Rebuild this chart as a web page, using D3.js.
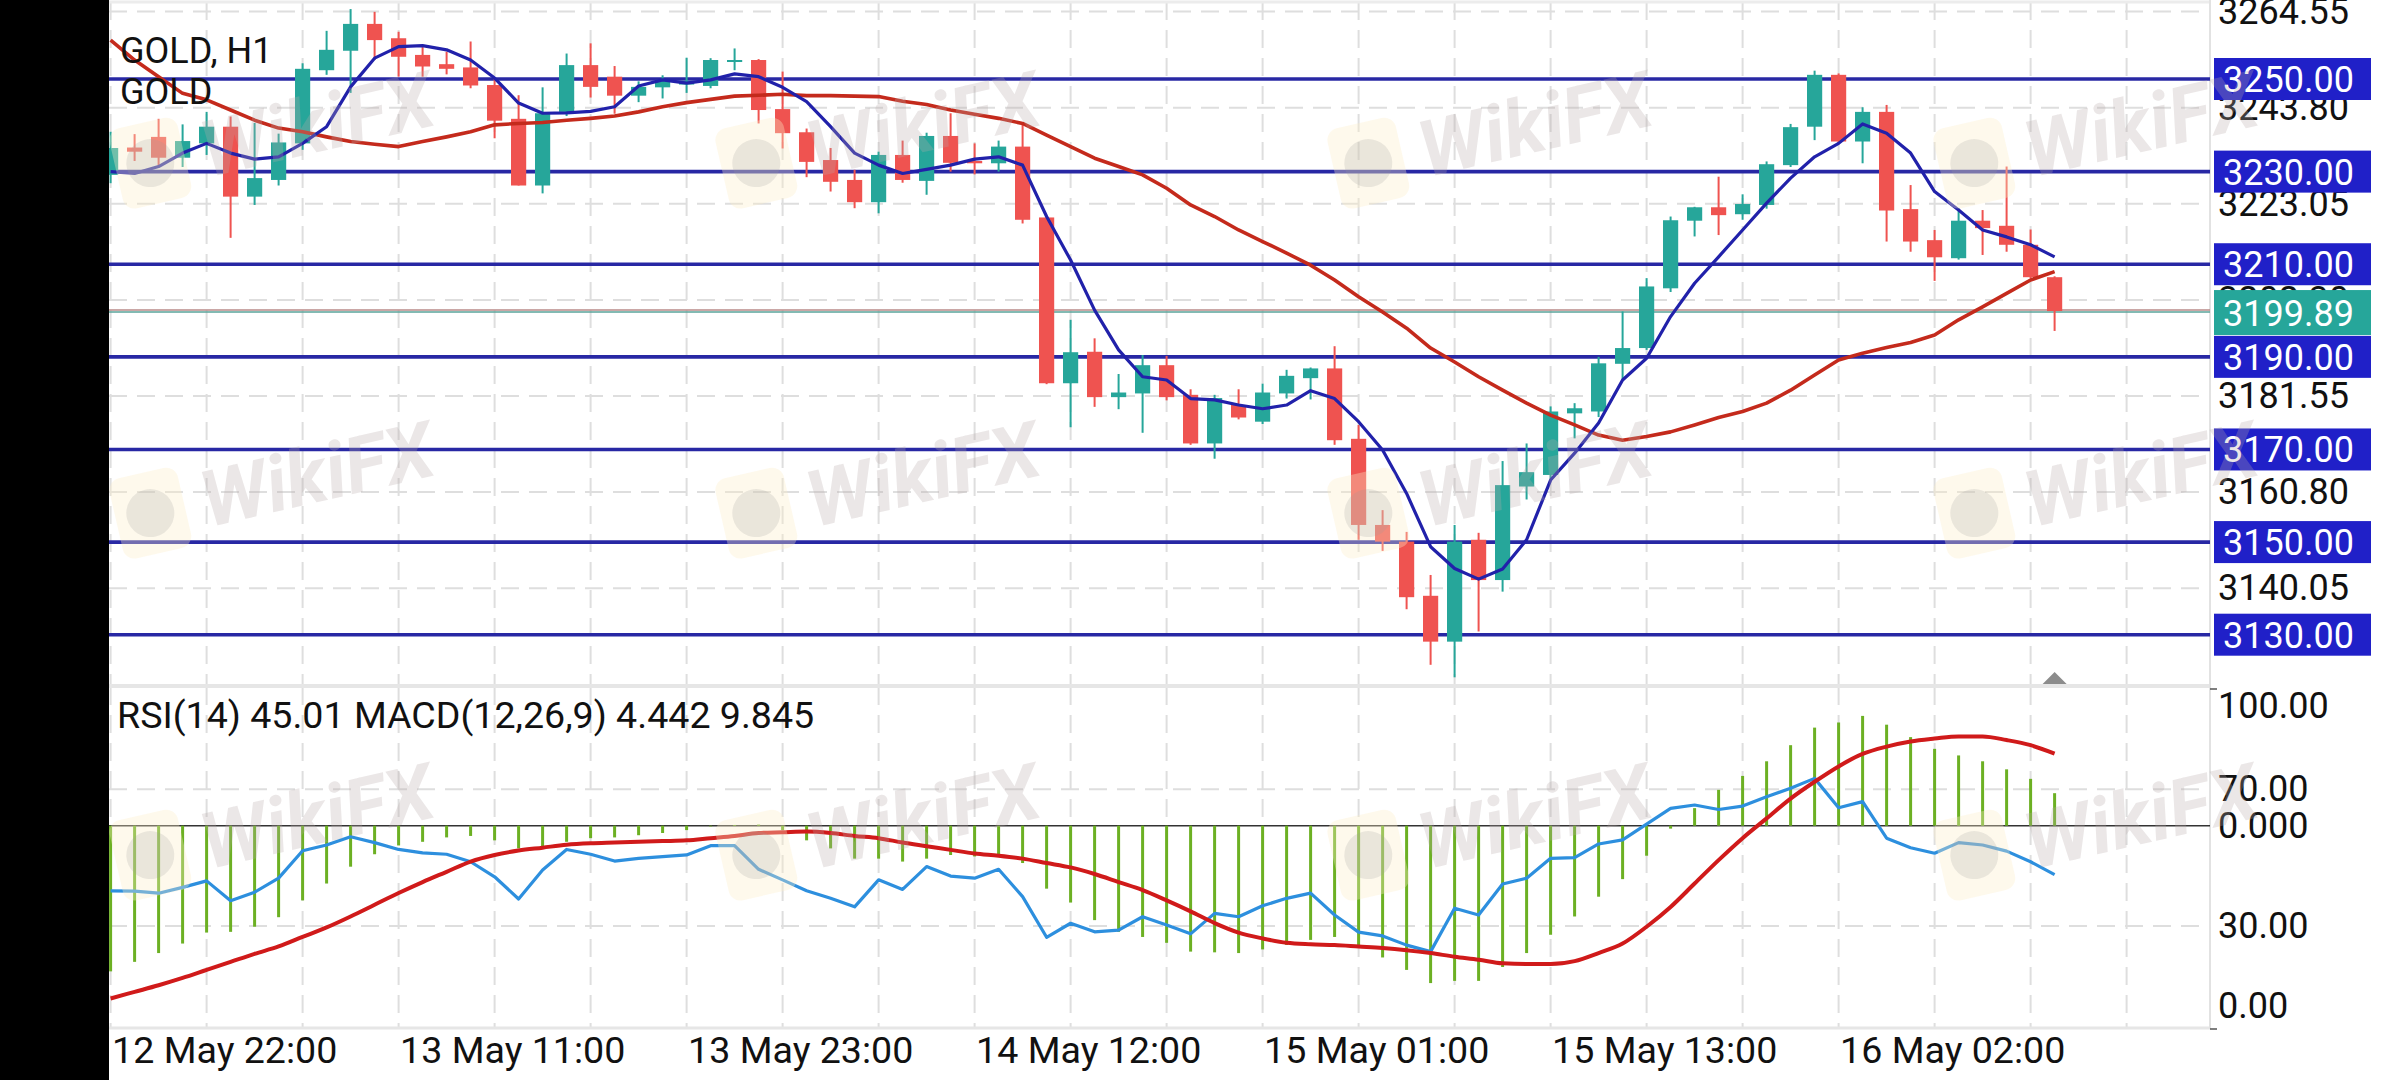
<!DOCTYPE html>
<html><head><meta charset="utf-8">
<script src="https://cdn.jsdelivr.net/npm/d3@7"></script>
<style>
html,body{margin:0;padding:0;background:#fff;}
svg{display:block;font-family:Roboto,"Noto Sans",sans-serif;}
</style></head><body>
<svg id="chart" width="2400" height="1080"></svg>
<script>
// ---- DATA ----
const opens  = [3229.3,3235.2,3237.5,3233.0,3236.1,3239.7,3224.6,3228.2,3236.1,3251.9,3256.1,3261.9,3258.8,3255.2,3253.2,3252.5,3248.7,3241.4,3227.0,3242.9,3253.0,3250.5,3246.4,3248.2,3248.8,3248.5,3253.8,3254.1,3243.5,3238.5,3232.5,3228.2,3223.4,3233.6,3228.0,3237.7,3232.3,3231.8,3235.4,3220.1,3184.3,3191.1,3181.3,3182.1,3188.2,3181.8,3171.3,3179.6,3176.0,3182.1,3185.4,3187.5,3172.3,3153.7,3150.1,3138.4,3128.5,3150.5,3141.8,3162.0,3164.5,3177.8,3178.2,3188.5,3191.9,3204.8,3219.4,3222.3,3220.8,3222.8,3231.4,3239.7,3250.9,3236.5,3242.9,3221.9,3215.2,3211.3,3219.4,3218.3,3214.2,3207.2];
const highs  = [3238.6,3238.1,3241.4,3240.2,3242.9,3241.9,3240.5,3238.2,3253.4,3260.4,3265.1,3264.5,3260.2,3256.9,3255.9,3258.1,3250.0,3246.5,3248.2,3255.5,3257.7,3252.8,3249.5,3250.8,3254.6,3254.5,3256.6,3254.3,3251.6,3239.3,3235.1,3230.4,3234.3,3236.7,3238.4,3242.6,3236.1,3236.7,3240.1,3220.5,3198.0,3194.0,3186.3,3190.4,3190.2,3183.0,3181.8,3183.0,3184.2,3187.2,3187.7,3192.3,3175.3,3156.9,3152.2,3142.9,3153.7,3152.0,3167.5,3171.3,3179.3,3180.0,3190.0,3199.8,3207.0,3220.3,3222.4,3228.9,3225.1,3232.2,3240.3,3251.8,3251.2,3243.9,3244.4,3227.1,3217.4,3222.1,3221.7,3231.1,3217.5,3207.4];
const lows   = [3227.5,3232.3,3231.4,3231.0,3233.6,3215.7,3222.8,3227.0,3234.7,3250.9,3247.0,3254.1,3250.5,3250.5,3251.0,3248.0,3237.2,3227.0,3225.3,3242.0,3246.0,3242.5,3245.0,3245.8,3247.0,3248.0,3251.9,3240.4,3235.0,3228.8,3225.7,3222.1,3221.0,3227.6,3225.0,3230.0,3229.4,3230.0,3218.8,3184.1,3174.8,3179.2,3178.7,3173.6,3180.6,3171.0,3168.0,3176.5,3175.5,3181.0,3180.8,3171.0,3150.5,3148.1,3135.5,3123.5,3120.8,3130.7,3139.3,3159.2,3163.5,3172.4,3177.0,3185.2,3191.5,3204.0,3216.0,3216.3,3219.6,3222.0,3231.0,3236.8,3236.0,3231.8,3214.9,3212.7,3206.4,3211.0,3212.0,3212.7,3207.0,3195.6];
const closes = [3235.1,3234.3,3233.0,3236.6,3239.7,3224.6,3228.6,3236.3,3252.2,3256.3,3261.9,3258.4,3254.8,3252.7,3252.2,3248.6,3241.0,3227.0,3242.6,3253.0,3248.3,3246.4,3248.3,3249.8,3249.6,3254.1,3254.1,3243.3,3238.3,3232.1,3227.8,3223.4,3233.6,3228.2,3237.7,3231.9,3231.8,3235.4,3219.6,3184.3,3191.0,3181.3,3182.3,3188.2,3181.3,3171.3,3181.1,3176.9,3182.3,3185.9,3187.5,3172.0,3153.7,3150.1,3138.1,3128.5,3150.1,3141.8,3162.3,3165.1,3178.2,3178.9,3188.6,3191.9,3205.2,3219.5,3222.3,3220.6,3223.0,3231.6,3239.6,3250.9,3236.5,3242.9,3221.6,3214.9,3211.5,3219.4,3217.8,3214.2,3207.2,3199.89];
const maFast = [3230.0,3229.6,3231.1,3234.0,3236.1,3234.0,3232.7,3233.2,3236.1,3239.7,3248.3,3254.5,3257.0,3257.2,3256.3,3254.1,3250.2,3244.8,3242.6,3242.7,3243.0,3244.0,3248.5,3249.8,3249.1,3249.8,3251.1,3250.5,3248.2,3245.1,3239.7,3234.0,3231.4,3229.6,3230.5,3231.4,3232.7,3233.2,3231.4,3220.3,3210.9,3200.1,3191.5,3185.7,3185.0,3181.0,3180.7,3179.6,3178.8,3179.6,3182.7,3181.0,3176.0,3169.9,3160.5,3149.0,3144.3,3142.0,3144.2,3150.5,3163.4,3169.2,3175.7,3185.0,3189.7,3198.7,3205.9,3211.6,3217.4,3223.2,3228.6,3233.2,3236.1,3240.3,3238.3,3234.0,3225.7,3221.7,3217.4,3215.9,3214.2,3211.6];
const maSlow = [3258.4,3254.1,3250.5,3246.9,3245.5,3243.3,3241.1,3239.4,3238.6,3237.5,3236.5,3235.9,3235.4,3236.5,3237.5,3238.6,3240.1,3240.4,3240.6,3241.1,3241.5,3242.0,3242.9,3244.0,3244.9,3245.6,3246.3,3246.5,3246.7,3246.4,3246.4,3246.3,3246.2,3245.2,3244.5,3243.3,3242.4,3241.5,3240.4,3237.9,3235.4,3232.9,3231.1,3229.3,3226.4,3222.8,3220.3,3217.4,3214.9,3212.4,3209.8,3206.6,3203.0,3199.7,3196.2,3191.9,3188.9,3185.7,3182.8,3180.0,3177.4,3175.3,3173.1,3172.0,3172.8,3173.8,3175.3,3176.9,3178.2,3180.0,3182.8,3186.1,3189.3,3190.8,3192.0,3193.1,3194.7,3198.0,3200.8,3203.7,3206.6,3208.4];
const rsi = [40.3,40.2,39.6,41.3,43.2,37.4,39.9,44.0,52.0,53.7,56.1,54.4,52.4,51.4,51.0,48.8,44.4,37.9,46.4,52.4,51.0,49.0,49.8,50.3,50.8,53.5,53.5,46.6,43.5,40.3,38.1,35.6,43.5,40.7,47.4,44.6,44.0,46.6,38.6,26.7,30.8,28.3,28.8,32.7,30.3,27.7,33.7,32.7,35.9,38.1,39.6,33.2,28.2,27.1,24.4,22.5,35.2,33.2,42.3,44.0,49.8,50.0,54.0,55.2,59.8,64.4,65.4,64.1,65.1,67.8,70.3,73.2,64.6,66.4,55.7,52.9,51.3,54.4,53.7,51.9,48.8,45.01];
const macdHist = [-19.9,-18.6,-17.4,-16.1,-14.6,-14.5,-13.8,-12.5,-10.2,-7.9,-5.6,-3.9,-2.7,-2.2,-1.6,-1.4,-2.0,-3.1,-2.9,-2.2,-1.7,-1.6,-1.3,-1.0,-0.6,-0.1,0.1,0.15,-0.6,-2.0,-3.1,-4.5,-4.5,-4.9,-4.5,-4.0,-4.2,-4.2,-5.1,-8.6,-10.5,-12.9,-14.5,-15.2,-16.0,-17.2,-17.3,-17.4,-16.9,-16.3,-15.6,-15.2,-16.3,-18.0,-19.7,-21.5,-21.2,-21.2,-19.3,-17.4,-14.9,-12.4,-9.7,-7.3,-4.1,-0.4,2.4,4.9,6.8,8.8,11.0,13.4,14.1,15.0,13.8,12.1,10.5,9.6,8.8,7.7,6.4,4.442];
const macdSignal = [-23.6,-22.7,-21.8,-20.8,-19.7,-18.6,-17.5,-16.5,-15.2,-13.9,-12.4,-10.8,-9.2,-7.7,-6.3,-4.9,-4.0,-3.4,-3.0,-2.6,-2.4,-2.3,-2.2,-2.1,-2.0,-1.7,-1.4,-1.0,-0.9,-0.8,-1.0,-1.4,-1.7,-2.3,-2.8,-3.3,-3.8,-4.1,-4.5,-5.1,-5.7,-6.6,-7.7,-8.8,-10.2,-11.7,-13.3,-14.6,-15.4,-16.0,-16.2,-16.3,-16.5,-16.7,-17.0,-17.4,-17.9,-18.3,-18.8,-18.9,-18.9,-18.5,-17.4,-16.1,-13.8,-11.1,-7.9,-4.7,-1.7,1.0,3.7,6.0,8.1,9.8,10.8,11.5,11.9,12.2,12.2,11.7,11.0,9.845];
const levels = [3250, 3230, 3210, 3190, 3170, 3150, 3130];
const currentPrice = 3199.89;
const priceTicks = [3264.55, 3243.80, 3223.05, 3202.30, 3181.55, 3160.80, 3140.05];
const rsiTicks = [100, 70, 30, 0];
const macdTicks = [0];
const dateTickIndex = [0, 12, 24, 36, 48, 60, 72];
const dateTickLabels = ["12 May 22:00","13 May 11:00","13 May 23:00","14 May 12:00","15 May 01:00","15 May 13:00","16 May 02:00"];
const gridEvery = 4;

// ---- LAYOUT ----
const W = 2400, H = 1080;
const PL = 109, PR = 2210;
const mainTop = 2, mainBot = 685;
const subTop = 687, subBot = 1027;
const FS = 36, FS2 = 37.6;

const svg = d3.select("#chart");
const n = closes.length;
const x = d3.scaleLinear().domain([0, 81]).range([110.6, 2054.6]);
const yP = d3.scaleLinear().domain([3130, 3250]).range([634.7, 79]);
const yR = d3.scaleLinear().domain([0, 100]).range([1028.5, 686.8]);
const yM = d3.scaleLinear().domain([0, 10]).range([825.7, 752.5]);

svg.append("rect").attr("width", W).attr("height", H).attr("fill", "#fff");

const defs = svg.append("defs");
defs.append("clipPath").attr("id","clipMain").append("rect")
  .attr("x", PL).attr("y", mainTop).attr("width", PR-PL).attr("height", mainBot-mainTop);
defs.append("clipPath").attr("id","clipSub").append("rect")
  .attr("x", PL).attr("y", subTop).attr("width", PR-PL).attr("height", subBot-subTop);

// ---- GRID ----
const gridIdx = d3.range(0, 88, gridEvery);
const grid = svg.append("g").attr("stroke", "#dedede").attr("stroke-width", 2).attr("stroke-dasharray", "18,10");
grid.selectAll("line.vm").data(gridIdx).join("line").attr("class","vm")
  .attr("x1", d => x(d)).attr("x2", d => x(d)).attr("y1", mainTop).attr("y2", mainBot);
grid.selectAll("line.vs").data(gridIdx).join("line").attr("class","vs")
  .attr("x1", d => x(d)).attr("x2", d => x(d)).attr("y1", subTop).attr("y2", subBot);
grid.selectAll("line.hm").data(priceTicks).join("line").attr("class","hm")
  .attr("x1", PL).attr("x2", PR).attr("y1", d => yP(d)).attr("y2", d => yP(d));
grid.selectAll("line.hr").data([70, 30]).join("line").attr("class","hr")
  .attr("x1", PL).attr("x2", PR).attr("y1", d => yR(d)).attr("y2", d => yR(d));

// panel borders
svg.append("line").attr("x1", PL).attr("x2", PR).attr("y1", mainTop).attr("y2", mainTop).attr("stroke", "#ececec").attr("stroke-width", 3);
svg.append("line").attr("x1", PL).attr("x2", PR).attr("y1", mainBot+1).attr("y2", mainBot+1).attr("stroke", "#e6e6e6").attr("stroke-width", 4);
svg.append("line").attr("x1", PL).attr("x2", PR).attr("y1", subBot+1).attr("y2", subBot+1).attr("stroke", "#e6e6e6").attr("stroke-width", 3);
svg.append("line").attr("x1", PR).attr("x2", PR).attr("y1", 0).attr("y2", subBot+2).attr("stroke", "#e2e2e2").attr("stroke-width", 2);
svg.append("line").attr("x1", PR).attr("x2", PR+7).attr("y1", subTop+2).attr("y2", subTop+2).attr("stroke", "#555").attr("stroke-width", 1.5);
svg.append("line").attr("x1", PR).attr("x2", PR+7).attr("y1", subBot+2).attr("y2", subBot+2).attr("stroke", "#555").attr("stroke-width", 1.5);

// ---- MAIN PANEL ----
const main = svg.append("g").attr("clip-path", "url(#clipMain)");

main.selectAll("line.lvl").data(levels).join("line").attr("class","lvl")
  .attr("x1", PL).attr("x2", PR).attr("y1", d => yP(d)).attr("y2", d => yP(d))
  .attr("stroke", "#2828a4").attr("stroke-width", 3.6);
main.append("line").attr("x1", PL).attr("x2", PR).attr("y1", yP(currentPrice)-1).attr("y2", yP(currentPrice)-1)
  .attr("stroke", "#b98a88").attr("stroke-width", 1.6);
main.append("line").attr("x1", PL).attr("x2", PR).attr("y1", yP(currentPrice)+1).attr("y2", yP(currentPrice)+1)
  .attr("stroke", "#5aa39a").attr("stroke-width", 1.4);

const up = "#26a69a", down = "#ef5350";
const idx = d3.range(n);
const cg = main.append("g");
cg.selectAll("line.wick").data(idx).join("line").attr("class","wick")
  .attr("x1", i => x(i)).attr("x2", i => x(i))
  .attr("y1", i => yP(highs[i])).attr("y2", i => yP(lows[i]))
  .attr("stroke", i => closes[i] >= opens[i] ? up : down).attr("stroke-width", 2);
cg.selectAll("rect.body").data(idx).join("rect").attr("class","body")
  .attr("x", i => x(i) - 7.6).attr("width", 15.2)
  .attr("y", i => yP(Math.max(opens[i], closes[i])))
  .attr("height", i => Math.max(2, Math.abs(yP(opens[i]) - yP(closes[i]))))
  .attr("fill", i => closes[i] >= opens[i] ? up : down);

const lineMain = arr => d3.line().x((d, i) => x(i)).y(d => yP(d))(arr);
main.append("path").attr("d", lineMain(maSlow)).attr("fill", "none")
  .attr("stroke", "#c42a1c").attr("stroke-width", 3.6).attr("stroke-linejoin", "round");
main.append("path").attr("d", lineMain(maFast)).attr("fill", "none")
  .attr("stroke", "#2121aa").attr("stroke-width", 3.2).attr("stroke-linejoin", "round");

svg.append("path")
  .attr("d", `M${x(81)-12},${mainBot-1} L${x(81)+12},${mainBot-1} L${x(81)},${mainBot-13} Z`)
  .attr("fill", "#8c8c8c");

// ---- SUB PANEL (RSI + MACD) ----
const sub = svg.append("g").attr("clip-path", "url(#clipSub)");
sub.append("line").attr("x1", PL).attr("x2", PR).attr("y1", yM(0)).attr("y2", yM(0))
  .attr("stroke", "#333").attr("stroke-width", 1.5);
sub.selectAll("line.hist").data(idx).join("line").attr("class","hist")
  .attr("x1", i => x(i)).attr("x2", i => x(i))
  .attr("y1", yM(0)).attr("y2", i => yM(macdHist[i]))
  .attr("stroke", "#6cb023").attr("stroke-width", 3);
sub.append("path").attr("d", d3.line().x((d,i) => x(i)).y(d => yR(d))(rsi))
  .attr("fill", "none").attr("stroke", "#2d8fde").attr("stroke-width", 3.2).attr("stroke-linejoin", "round");
sub.append("path").attr("d", d3.line().curve(d3.curveMonotoneX).x((d,i) => x(i)).y(d => yM(d))(macdSignal))
  .attr("fill", "none").attr("stroke", "#d01a1a").attr("stroke-width", 4);

// ---- AXES ----
const styleAxis = fs => g => {
  g.select(".domain").remove();
  g.selectAll("text").attr("font-size", fs).attr("fill", "#111").attr("font-family", "Roboto, 'Noto Sans', sans-serif");
};
svg.append("g").attr("transform", `translate(${PR},0)`)
  .call(d3.axisRight(yP).tickValues(priceTicks).tickFormat(d3.format(".2f")).tickSize(0).tickPadding(8))
  .call(styleAxis(FS));

const rsiAx = svg.append("g").attr("transform", `translate(${PR},0)`)
  .call(d3.axisRight(yR).tickValues(rsiTicks).tickFormat(d3.format(".2f")).tickSize(0).tickPadding(8))
  .call(styleAxis(FS));
rsiAx.selectAll(".tick text").attr("dy", d => d === 100 ? "0.85em" : d === 0 ? "-0.3em" : "0.32em");

svg.append("g").attr("transform", `translate(${PR},0)`)
  .call(d3.axisRight(yM).tickValues(macdTicks).tickFormat(d3.format(".3f")).tickSize(0).tickPadding(8))
  .call(styleAxis(FS));

const xAx = svg.append("g").attr("transform", `translate(0,${subBot})`)
  .call(d3.axisBottom(x).tickValues(dateTickIndex).tickFormat((d, k) => dateTickLabels[k]).tickSize(0).tickPadding(9))
  .call(styleAxis(FS2));
xAx.selectAll(".tick text").attr("text-anchor", "start").attr("x", 1);

// ---- LEVEL LABELS ----
const lab = svg.append("g");
lab.selectAll("rect.lv").data(levels).join("rect").attr("class","lv")
  .attr("x", PR+4).attr("width", 157).attr("y", d => yP(d) - 21).attr("height", 42)
  .attr("fill", "#2020c8");
lab.selectAll("text.lv").data(levels).join("text").attr("class","lv")
  .attr("x", PR+13).attr("y", d => yP(d)).attr("dy", "0.36em")
  .attr("font-size", FS).attr("fill", "#fff").text(d => d3.format(".2f")(d));
lab.append("rect").attr("x", PR+4).attr("width", 157).attr("y", yP(currentPrice) - 21).attr("height", 45).attr("fill", "#26a69a");
lab.append("text").attr("x", PR+13).attr("y", yP(currentPrice)+1.5).attr("dy", "0.36em")
  .attr("font-size", FS).attr("fill", "#fff").text(d3.format(".2f")(currentPrice));

// ---- TITLES ----
svg.append("text").attr("x", 120).attr("y", 63).attr("font-size", FS).attr("fill", "#111").text("GOLD, H1");
svg.append("text").attr("x", 120).attr("y", 104).attr("font-size", FS).attr("fill", "#111").text("GOLD");
svg.append("text").attr("x", 117).attr("y", 728).attr("font-size", FS2).attr("fill", "#111")
  .text(`RSI(14) ${d3.format(".2f")(rsi[n-1])} MACD(12,26,9) ${d3.format(".3f")(macdHist[n-1])} ${d3.format(".3f")(macdSignal[n-1])}`);

// ---- WATERMARKS ----
const wmX = [116, 722, 1334, 1940], wmY = [170, 520, 862];
const wm = svg.append("g").attr("pointer-events", "none");
wmY.forEach(wy => wmX.forEach(wx => {
  const g = wm.append("g").attr("transform", `translate(${wx},${wy}) rotate(-13)`);
  g.append("rect").attr("x", 0).attr("y", -40).attr("width", 70).attr("height", 82).attr("rx", 12)
    .attr("fill", "#fbeec8").attr("opacity", 0.35);
  g.append("circle").attr("cx", 35).attr("cy", 1).attr("r", 24).attr("fill", "#9a9a9a").attr("opacity", 0.2);
  g.append("text").attr("x", 88).attr("y", 28).attr("font-size", 78).attr("font-weight", 700)
    .attr("font-style", "italic").attr("fill", "#b8aaaa").attr("opacity", 0.28).text("WikiFX");
}));

svg.append("rect").attr("x", 0).attr("y", 0).attr("width", PL).attr("height", H).attr("fill", "#000");
</script>
</body></html>
